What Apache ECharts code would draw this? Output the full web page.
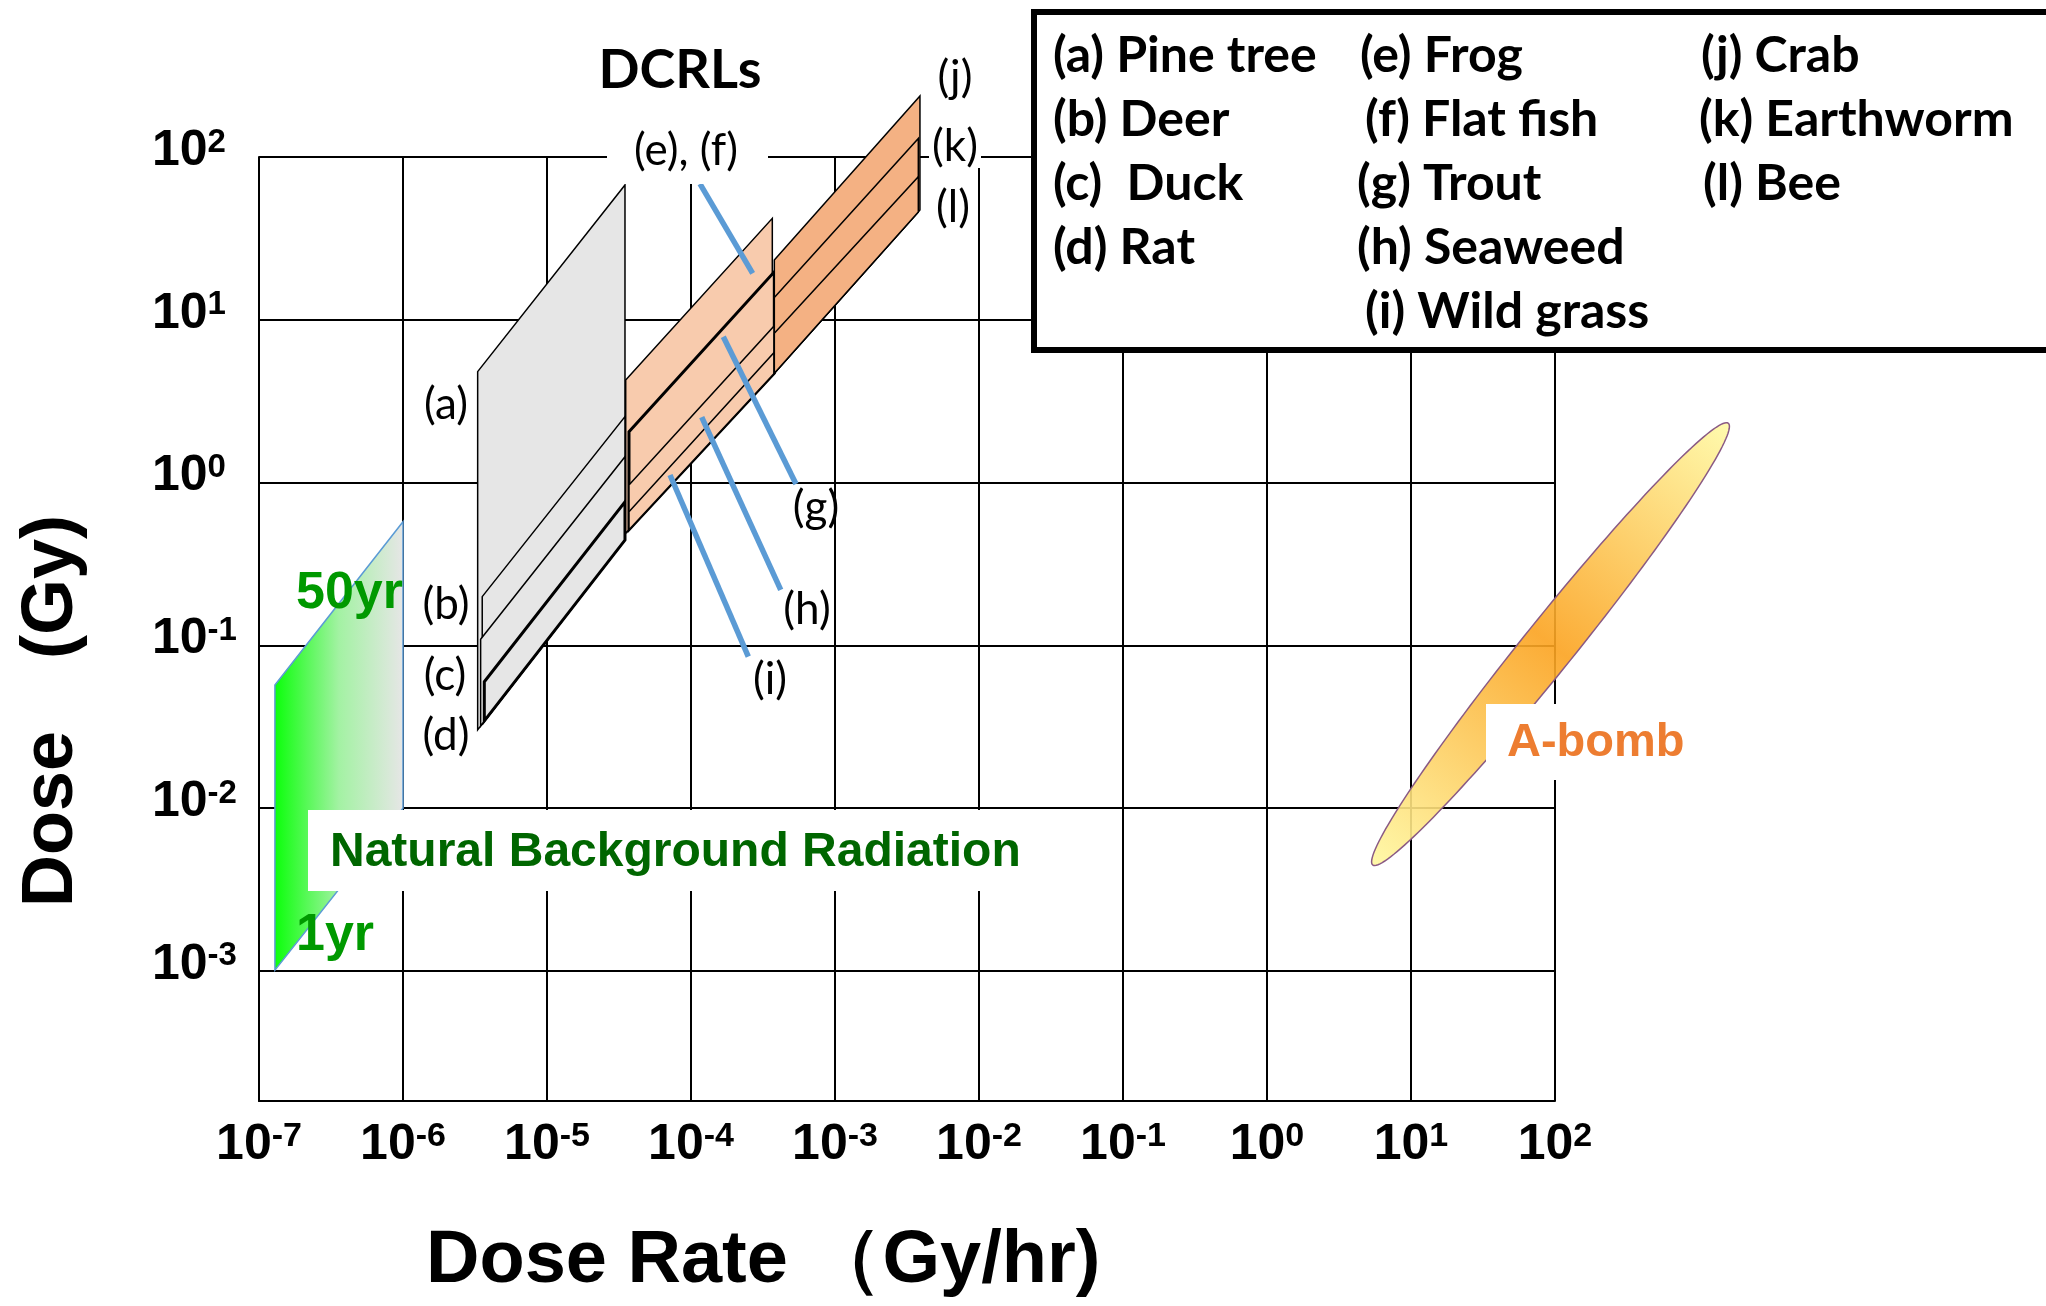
<!DOCTYPE html>
<html>
<head>
<meta charset="utf-8">
<script src="https://cdn.jsdelivr.net/npm/echarts@6/dist/echarts.min.js"></script>
<style>
  html, body { margin: 0; padding: 0; background: #fff; }
  #chart { width: 2046px; height: 1306px; }
</style>
</head>
<body>
<div id="chart"></div>
<script>
// decade exponents shown on the axes
const rateTicks = [-7, -6, -5, -4, -3, -2, -1, 0, 1, 2];
const doseTicks = [-3, -2, -1, 0, 1, 2];
const doseAxisMin = 1.585e-4; // axis runs a bit below 10^-3

// corners of each band as [dose rate (Gy/hr), dose (Gy)]
const pineTree = [[3.30e-6, 4.80], [3.48e-5, 67.3], [3.48e-5, 0.443], [3.30e-6, 0.0302]];
const deer = [[3.55e-6, 0.199], [3.48e-5, 2.54], [3.48e-5, 0.443], [3.55e-6, 0.0328]];
const duck = [[3.46e-6, 0.109], [3.48e-5, 1.44], [3.48e-5, 0.443], [3.46e-6, 0.0319]];
const rat = [[3.67e-6, 0.0597], [3.48e-5, 0.762], [3.48e-5, 0.443], [3.67e-6, 0.0343]];

const frogFlatfish = [[3.52e-5, 4.26], [3.67e-4, 42.0], [3.67e-4, 4.55], [3.52e-5, 0.488]];
const trout = [[3.71e-5, 2.05], [3.79e-4, 19.7], [3.79e-4, 4.69], [3.71e-5, 0.513]];
const seaweed = [[3.71e-5, 0.966], [3.79e-4, 9.19], [3.79e-4, 4.69], [3.71e-5, 0.513]];
const wildGrass = [[3.71e-5, 0.662], [3.79e-4, 6.31], [3.79e-4, 4.69], [3.71e-5, 0.513]];

const crab = [[3.79e-4, 23.3], [3.89e-3, 237], [3.89e-3, 47.2], [3.79e-4, 4.69]];
const earthworm = [[3.79e-4, 13.7], [3.79e-3, 130], [3.79e-3, 46.0], [3.79e-4, 4.69]];
const bee = [[3.79e-4, 8.26], [3.79e-3, 75.7], [3.79e-3, 46.0], [3.79e-4, 4.69]];

// natural background: 1 year and 50 years of exposure
const background1yr = [[1.29e-7, 0.00101], [1.0e-6, 0.00996]];
const background50yr = [[1.29e-7, 0.057], [1.0e-6, 0.574]];

// A-bomb ellipse, ends of the long axis
const aBombEnds = [[5.42, 0.00447], [1598, 2.311]];

// blue pointer lines to the labels
const pointerEF = [[1.155e-4, 68.3], [2.68e-4, 19.3]];
const pointerG = [[1.676e-4, 7.87], [5.36e-4, 0.979]];
const pointerH = [[1.187e-4, 2.52], [4.20e-4, 0.219]];
const pointerI = [[7.15e-5, 1.112], [2.50e-4, 0.0851]];

const AX = '"Liberation Sans", Arial, sans-serif';
const NOTE = 'Lato, "Noto Sans", sans-serif';

const chart = echarts.init(document.getElementById('chart'));

function powLabel(ticks) {
  return function (v) {
    const e = Math.log10(v);
    const r = Math.round(e);
    if (Math.abs(e - r) > 1e-6 || ticks.indexOf(r) < 0) return '';
    return '{b|10}{s|' + r + '}';
  };
}

function bandSeries(shapes, fill, widths, z) {
  return {
    type: 'custom',
    coordinateSystem: 'cartesian2d',
    clip: false,
    silent: true,
    z: z,
    data: shapes.map((s, i) => [s[0][0], s[0][1], i]),
    renderItem: function (params, api) {
      const i = api.value(2);
      return {
        type: 'polygon',
        shape: { points: shapes[i].map(p => api.coord(p)) },
        style: { fill: fill, stroke: '#000', lineWidth: widths[i], lineJoin: 'miter' }
      };
    }
  };
}

const pointers = [pointerEF, pointerG, pointerH, pointerI];

const labelText = (text, x, y, extra) => Object.assign({
  type: 'text', z: 100, x: x, y: y,
  style: Object.assign({ text: text, font: '44px ' + NOTE, fill: '#000', textAlign: 'center', textVerticalAlign: 'middle' }, extra || {})
});
const whiteBox = (x, y, w, h) => ({ type: 'rect', z: 90, shape: { x: x, y: y, width: w, height: h }, style: { fill: '#fff' } });

const legendCol = [
  ['(a) Pine tree', 1053, 56], ['(b) Deer', 1053, 120], ['(c)  Duck', 1053, 184], ['(d) Rat', 1053, 248],
  ['(e) Frog', 1360, 56], ['(f) Flat fish', 1365, 120], ['(g) Trout', 1357, 184], ['(h) Seaweed', 1357, 248], ['(i) Wild grass', 1365, 312],
  ['(j) Crab', 1701, 56], ['(k) Earthworm', 1699, 120], ['(l) Bee', 1703, 184]
];

const option = {
  animation: false,
  backgroundColor: '#fff',
  grid: { left: 259, right: 491, top: 157, bottom: 205, containLabel: false, outerBoundsMode: 'none' },
  xAxis: {
    type: 'log', logBase: 10,
    min: Math.pow(10, rateTicks[0]), max: Math.pow(10, rateTicks[rateTicks.length - 1]),
    axisLine: { show: true, onZero: false, lineStyle: { color: '#000', width: 2 } },
    axisTick: { show: false },
    splitLine: { show: true, lineStyle: { color: '#000', width: 2 } },
    axisLabel: {
      margin: 19, formatter: powLabel(rateTicks),
      rich: {
        b: { fontFamily: AX, fontWeight: 'bold', fontSize: 50, color: '#000' },
        s: { fontFamily: AX, fontWeight: 'bold', fontSize: 34, color: '#000', verticalAlign: 'top' }
      }
    }
  },
  yAxis: {
    type: 'log', logBase: 10,
    min: doseAxisMin, max: Math.pow(10, doseTicks[doseTicks.length - 1]),
    axisLine: { show: true, lineStyle: { color: '#000', width: 2 } },
    axisTick: { show: false },
    splitLine: { show: true, lineStyle: { color: '#000', width: 2 } },
    axisLabel: {
      margin: 107, align: 'left', formatter: powLabel(doseTicks),
      rich: {
        b: { fontFamily: AX, fontWeight: 'bold', fontSize: 50, color: '#000', padding: [0, 0, 12, 0] },
        s: { fontFamily: AX, fontWeight: 'bold', fontSize: 33, color: '#000', verticalAlign: 'top' }
      }
    }
  },
  series: [
    {
      type: 'custom', coordinateSystem: 'cartesian2d', clip: false, silent: true, z: 3,
      data: [[background1yr[0][0], background1yr[0][1]]],
      renderItem: function (params, api) {
        const pts = background50yr.concat(background1yr.slice().reverse()).map(p => api.coord(p));
        const x0 = api.coord(background1yr[0])[0];
        const x1 = api.coord(background1yr[1])[0];
        return {
          type: 'polygon', shape: { points: pts },
          style: {
            fill: new echarts.graphic.LinearGradient(x0, 0, x1, 0, [
              { offset: 0, color: '#0cff0c' }, { offset: 0.5, color: '#a3f2a3' }, { offset: 1, color: '#e6e6e6' }
            ], true),
            stroke: '#5b9bd5', lineWidth: 1.5
          }
        };
      }
    },
    bandSeries([pineTree, deer, duck, rat], '#e6e6e6', [1.5, 1.5, 1.5, 3], 4),
    bandSeries([frogFlatfish, trout, seaweed, wildGrass], '#f8cbad', [1.5, 3, 1.5, 1.5], 5),
    bandSeries([crab, earthworm, bee], '#f4b183', [1.5, 1.5, 1.5], 6),
    {
      type: 'custom', coordinateSystem: 'cartesian2d', clip: false, silent: true, z: 7,
      data: pointers.map((p, i) => [p[0][0], p[0][1], i]),
      renderItem: function (params, api) {
        const seg = pointers[api.value(2)];
        const a = api.coord(seg[0]), b = api.coord(seg[1]);
        return {
          type: 'line', shape: { x1: a[0], y1: a[1], x2: b[0], y2: b[1] },
          style: { stroke: '#5b9bd5', lineWidth: 5.5 }
        };
      }
    },
    {
      type: 'custom', coordinateSystem: 'cartesian2d', clip: false, silent: true, z: 8,
      data: [[aBombEnds[0][0], aBombEnds[0][1]]],
      renderItem: function (params, api) {
        const p1 = api.coord(aBombEnds[0]), p2 = api.coord(aBombEnds[1]);
        const cx = (p1[0] + p2[0]) / 2, cy = (p1[1] + p2[1]) / 2;
        const dx = p2[0] - p1[0], dy = p2[1] - p1[1];
        const len = Math.hypot(dx, dy);
        const ux = dx / len, uy = dy / len;
        const ra = len / 2, rb = ra * 0.09;
        const pts = [];
        for (let k = 0; k < 160; k++) {
          const t = k / 160 * Math.PI * 2;
          pts.push([cx + ra * Math.cos(t) * ux - rb * Math.sin(t) * uy,
                    cy + ra * Math.cos(t) * uy + rb * Math.sin(t) * ux]);
        }
        return {
          type: 'polygon', shape: { points: pts },
          style: {
            fill: new echarts.graphic.LinearGradient(p1[0], p1[1], p2[0], p2[1], [
              { offset: 0, color: 'rgba(255,248,160,0.9)' },
              { offset: 0.5, color: 'rgba(251,163,32,0.9)' },
              { offset: 1, color: 'rgba(255,250,165,0.9)' }
            ], true),
            stroke: '#8a5a84', lineWidth: 1.5
          }
        };
      }
    }
  ],
  graphic: {
    elements: [
      // legend box
      { type: 'rect', z: 95, shape: { x: 1034, y: 12, width: 1200, height: 338 }, style: { fill: '#fff', stroke: '#000', lineWidth: 6 } },
      ...legendCol.map(r => labelText(r[0], r[1], r[2], { font: 'bold 50px ' + NOTE, textAlign: 'left' })),

      whiteBox(607, 122, 161, 62),
      whiteBox(929, 128, 52, 40),
      whiteBox(308, 810, 722, 81),
      whiteBox(1486, 704, 219, 76),

      labelText('DCRLs', 680, 71, { font: 'bold 54px ' + NOTE }),
      labelText('(e), (f)', 686, 151),
      labelText('(a)', 446, 405),
      labelText('(b)', 446, 605),
      labelText('(c)', 445, 676),
      labelText('(d)', 446, 736),
      labelText('(g)', 816, 508),
      labelText('(h)', 807, 610),
      labelText('(i)', 770, 680),
      labelText('(j)', 955, 78),
      labelText('(k)', 955, 147),
      labelText('(l)', 953, 208),

      labelText('Natural Background Radiation', 330, 853, { font: 'bold 48px ' + AX, fill: '#006600', textAlign: 'left' }),
      labelText('50yr', 296, 594, { font: 'bold 52px ' + AX, fill: '#009900', textAlign: 'left' }),
      labelText('1yr', 296, 936, { font: 'bold 52px ' + AX, fill: '#009900', textAlign: 'left' }),
      labelText('A-bomb', 1507, 743, { font: 'bold 47px ' + AX, fill: '#ed7d31', textAlign: 'left' }),

      labelText('Dose Rate （Gy/hr)', 426, 1262, { font: 'bold 74px ' + AX, textAlign: 'left' }),
      Object.assign(labelText('Dose　(Gy)', 52, 711, { font: 'bold 72px ' + AX }), { rotation: Math.PI / 2 })
    ]
  }
};

chart.setOption(option);
</script>
</body>
</html>
